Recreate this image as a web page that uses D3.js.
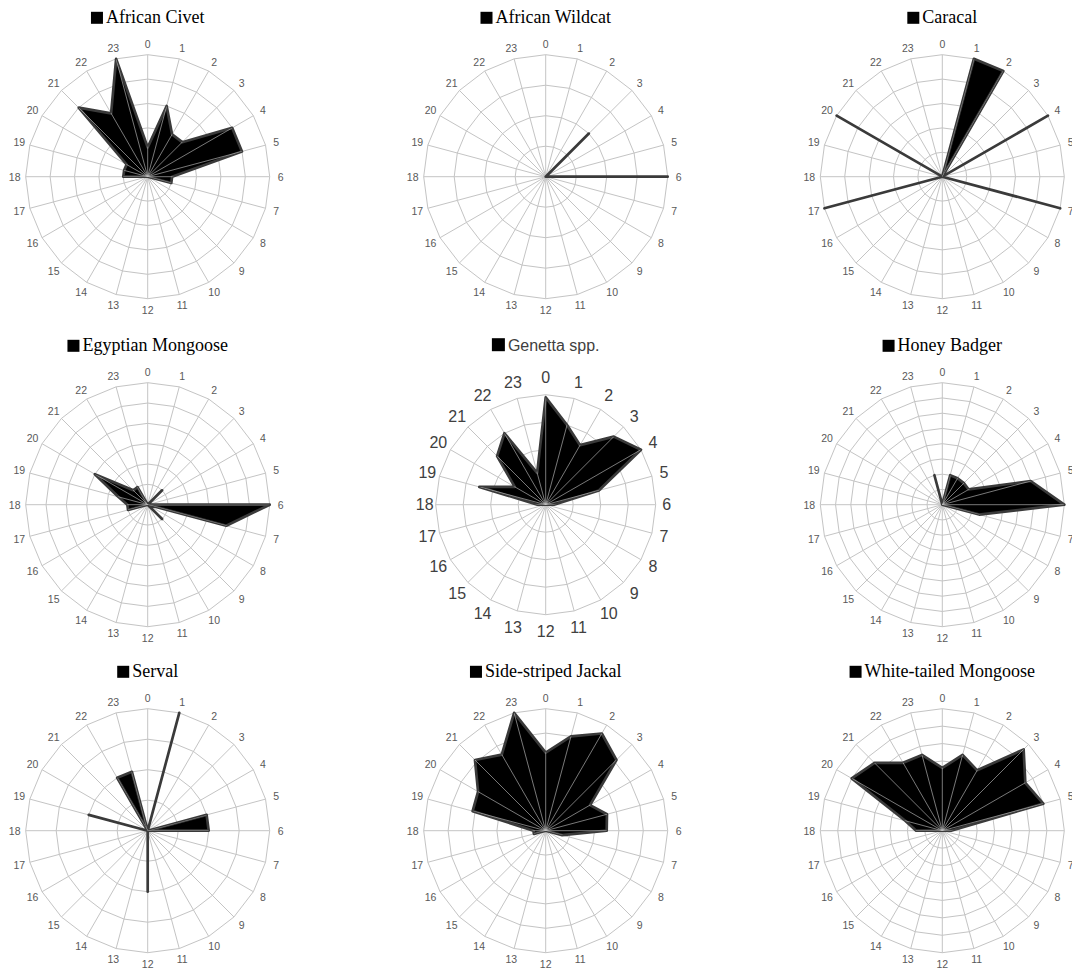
<!DOCTYPE html>
<html>
<head>
<meta charset="utf-8">
<script src="https://cdn.jsdelivr.net/npm/d3@7"></script>
<style>
  html, body { margin: 0; padding: 0; background: #fff; }
  svg { display: block; }
</style>
</head>
<body>
<svg id="chart" width="1072" height="974"></svg>
<script>
// Hour-of-day categories around each radar
const hourLabels = ["0","1","2","3","4","5","6","7","8","9","10","11",
                    "12","13","14","15","16","17","18","19","20","21","22","23"];

const speciesNames = ["African Civet", "African Wildcat", "Caracal",
                      "Egyptian Mongoose", "Genetta spp.", "Honey Badger",
                      "Serval", "Side-striped Jackal", "White-tailed Mongoose"];

// Activity per hour (0 to 23) for each species
const africanCivet        = [1.2, 3, 2, 2, 4, 4, 1, 1, 0, 0, 0, 0, 0, 0, 0, 0, 0, 0, 1, 1, 1, 4, 3, 5];
const africanWildcat      = [0, 0, 0, 2, 0, 0, 4, 0, 0, 0, 0, 0, 0, 0, 0, 0, 0, 0, 0, 0, 0, 0, 0, 0];
const caracal             = [0, 1, 1, 0, 1, 0, 0, 1, 0, 0, 0, 0, 0, 0, 0, 0, 0, 1, 0, 0, 1, 0, 0, 0];
const egyptianMongoose    = [0, 0, 0, 1, 0, 0, 6, 4, 0, 1, 0, 0, 0, 0, 0, 0, 0, 1, 1, 1.5, 3, 1, 1, 0];
const genetta             = [3.9, 3, 2.5, 3.5, 4, 2, 0.3, 0, 0, 0, 0, 0, 0, 0, 0, 0, 0, 0, 0.3, 2.5, 1.3, 2.5, 3, 1.2];
const honeyBadger         = [0, 2, 2, 2, 2, 6, 8, 2.5, 0, 0, 0, 0, 0, 0, 0, 0, 0, 0, 0, 0, 0, 0, 0, 2];
const serval              = [0, 4, 0, 0, 0, 2, 2, 0, 0, 0, 0, 0, 2, 0, 0, 0, 0, 0, 0, 2, 0, 0, 2, 2];
const sideStripedJackal   = [3.2, 4, 4.6, 4.1, 2.1, 2.6, 2.5, 0.7, 0, 0, 0, 0, 0, 0, 0, 0, 0, 0.5, 0.5, 3.1, 3.2, 4.1, 3.6, 5];
const whiteTailedMongoose = [3.6, 4.5, 4, 6.6, 5.5, 6, 0.5, 0, 0, 0, 0, 0, 0, 0, 0, 0, 0, 0, 1.5, 2.2, 6, 5.5, 4.5, 4.5];

// Radial axis maximum and number of gridline rings per panel
const axisMax    = [5, 4, 1, 6, 4, 8, 4, 5, 7];
const ringCounts = [5, 4, 5, 6, 4, 8, 4, 5, 7];

const seriesValues = [africanCivet, africanWildcat, caracal,
                      egyptianMongoose, genetta, honeyBadger,
                      serval, sideStripedJackal, whiteTailedMongoose];

const svg = d3.select("#chart");
const defs = svg.append("defs");
const colX = [147.7, 545.7, 942.3];
const rowY = [176.7, 504.7, 830.7];

const hours = d3.range(hourLabels.length);
const angle = d3.scaleLinear().domain([0, hours.length]).range([0, 2 * Math.PI]);

seriesValues.forEach((vals, i) => {
  const sansPanel = speciesNames[i] === "Genetta spp.";
  const cx = colX[i % 3];
  const cy = rowY[Math.floor(i / 3)];
  const R = sansPanel ? 110 : 122;
  const r = d3.scaleLinear().domain([0, axisMax[i]]).range([0, R]);

  const g = svg.append("g").attr("transform", `translate(${cx},${cy})`);

  // ring gridlines (polygons through the spokes)
  const ringVals = d3.range(1, ringCounts[i] + 1).map(k => k * axisMax[i] / ringCounts[i]);
  g.append("g").selectAll("path").data(ringVals).join("path")
    .attr("d", v => d3.lineRadial()
        .angle(h => angle(h))
        .radius(() => r(v))
        .curve(d3.curveLinearClosed)(hours))
    .attr("fill", "none")
    .attr("stroke", "#c4c4c4")
    .attr("stroke-width", 1);

  // spokes
  const spoke = sel => sel.selectAll("line").data(hours).join("line")
    .attr("x1", 0).attr("y1", 0)
    .attr("x2", h => r(axisMax[i]) * Math.sin(angle(h)))
    .attr("y2", h => -r(axisMax[i]) * Math.cos(angle(h)));
  g.append("g").call(spoke).attr("stroke", "#c4c4c4").attr("stroke-width", 1);

  // filled series
  const area = d3.lineRadial()
    .angle((d, h) => angle(h))
    .radius(d => r(d))
    .curve(d3.curveLinearClosed);
  const areaPath = area(vals);
  g.append("path")
    .attr("d", areaPath)
    .attr("fill", "#000")
    .attr("stroke", "#3a3a3a")
    .attr("stroke-width", 2.7)
    .attr("stroke-linejoin", "round");

  // spokes seen through the filled region only
  const clipId = `fill-clip-${i}`;
  defs.append("clipPath").attr("id", clipId)
    .append("path").attr("d", areaPath)
    .attr("transform", `translate(${cx},${cy})`);
  svg.append("g").attr("clip-path", `url(#${clipId})`)
    .append("g").attr("transform", `translate(${cx},${cy})`)
    .call(spoke)
    .attr("stroke", "#c0c0c0").attr("stroke-opacity", 0.7).attr("stroke-width", 0.9);

  // hour labels
  g.append("g").selectAll("text").data(hours).join("text")
    .attr("x", h => {
      const d = R + (sansPanel ? 11 + 6 * Math.abs(Math.cos(angle(h))) : 11);
      return d * Math.sin(angle(h));
    })
    .attr("y", h => {
      const d = R + (sansPanel ? 11 + 6 * Math.abs(Math.cos(angle(h))) : 11);
      return -d * Math.cos(angle(h));
    })
    .attr("text-anchor", "middle")
    .attr("dominant-baseline", "central")
    .attr("font-family", "'Liberation Sans', Arial, sans-serif")
    .attr("font-size", sansPanel ? 16 : 10.5)
    .attr("fill", sansPanel ? "#404040" : "#595959")
    .text(h => hourLabels[h]);

  // legend-style title
  const title = svg.append("g");
  const baseline = cy - (sansPanel ? 154 : 153.4);
  const sq = sansPanel ? 13 : 12;
  const gap = 3;
  const txt = title.append("text")
    .attr("y", baseline)
    .attr("font-family", sansPanel ? "'Liberation Sans', Arial, sans-serif" : "'Liberation Serif', 'Times New Roman', serif")
    .attr("font-size", sansPanel ? 16 : 18)
    .attr("fill", sansPanel ? "#404040" : "#000")
    .text(speciesNames[i]);
  const tw = txt.node().getComputedTextLength();
  const total = sq + gap + tw;
  const x0 = cx - total / 2;
  title.append("rect")
    .attr("x", x0).attr("y", baseline - sq + 0.5)
    .attr("width", sq).attr("height", sq)
    .attr("fill", "#000");
  txt.attr("x", x0 + sq + gap);
});
</script>
</body>
</html>
